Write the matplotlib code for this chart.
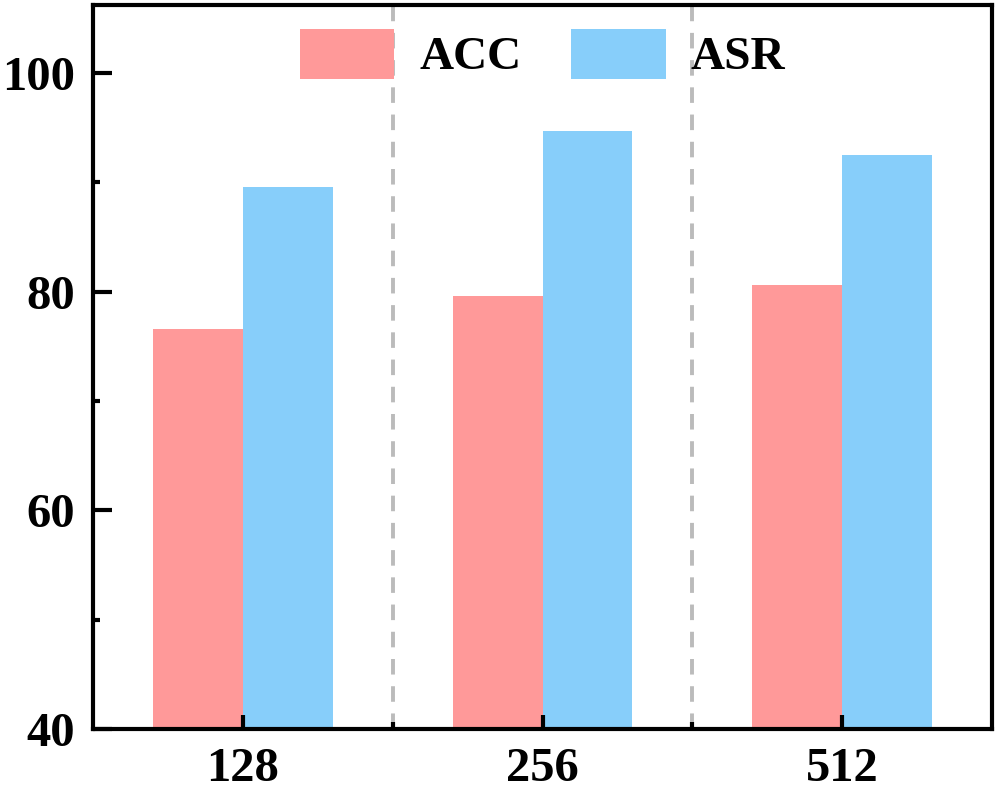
import numpy as np
import matplotlib.pyplot as plt
from matplotlib.ticker import MultipleLocator

plt.rcParams['font.family'] = ['Liberation Serif', 'DejaVu Serif']
plt.rcParams['font.weight'] = 'bold'

categories = ['128', '256', '512']
acc = [76.6, 79.6, 80.6]
asr = [89.6, 94.7, 92.5]

fig = plt.figure(figsize=(9.97, 7.99), dpi=100)
ax = fig.add_axes([0.0933, 0.0876, 0.9017, 0.9061])

x = np.arange(len(categories))
w = 0.3
ax.bar(x - w / 2, np.array(acc) - 40, w, bottom=40, color='#FF9999', label='ACC')
ax.bar(x + w / 2, np.array(asr) - 40, w, bottom=40, color='#87CEFA', label='ASR')

# separators between groups
for xv in [0.5, 1.5]:
    ax.axvline(xv, color='#BBBBBB', lw=2.8, ls=(0, (4, 3)), zorder=0)

ax.set_xlim(-0.5, 2.5)
ax.set_ylim(40, 106.2)
ax.set_xticks(x)
ax.set_xticklabels(categories)
ax.set_xticks([0.5, 1.5], minor=True)
ax.yaxis.set_major_locator(MultipleLocator(20))
ax.yaxis.set_minor_locator(MultipleLocator(10))

for s in ax.spines.values():
    s.set_linewidth(3)
ax.tick_params(which='major', direction='in', length=10, width=3, labelsize=35)
ax.tick_params(axis='x', which='major', pad=13)
ax.tick_params(axis='y', which='major', length=14, pad=13)
ax.tick_params(which='minor', direction='in', length=5, width=3)

ax.legend(loc='upper center', bbox_to_anchor=(0.5, 1.0), ncol=2, frameon=False,
          fontsize=34, handlelength=2.0, handleheight=1.25, handletextpad=0.53,
          columnspacing=1.06, borderaxespad=0.1)

plt.savefig('out.png', dpi=100)
